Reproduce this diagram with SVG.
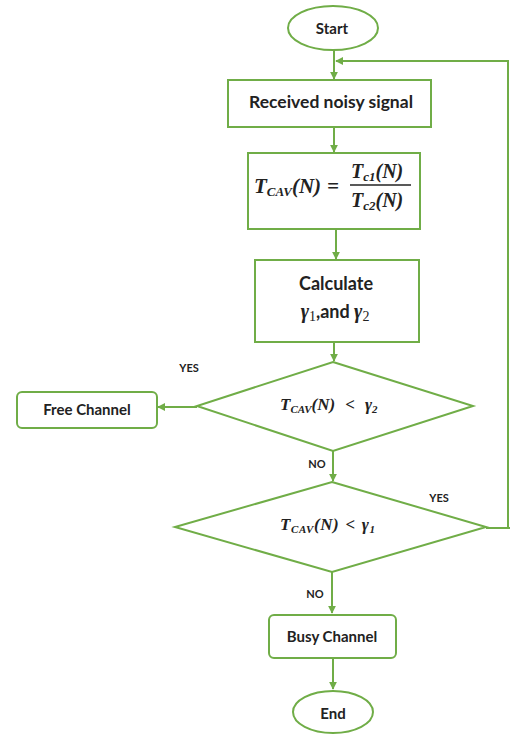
<svg xmlns="http://www.w3.org/2000/svg" width="510" height="734" viewBox="0 0 510 734">
<style>
.s{fill:#fff;stroke:#70AD47;stroke-width:2}
.c{fill:none;stroke:#70AD47;stroke-width:2}
.t{font-family:Lato,"Liberation Sans",sans-serif;font-weight:bold;fill:#222;text-anchor:middle}
.m{font-family:"Liberation Serif","DejaVu Serif",serif;font-weight:bold;font-style:italic;fill:#222}
</style>
<defs>
<marker id="a" viewBox="0 0 10 10" refX="9" refY="5" markerWidth="4" markerHeight="4" orient="auto"><path d="M0,0L10,5L0,10z" fill="#70AD47"/></marker>
</defs>
<rect width="510" height="734" fill="#fff"/>
<g id="connectors">
<path class="c" d="M334,50V79" marker-end="url(#a)"/>
<path class="c" d="M486,528H510M508,528V61H336" marker-end="url(#a)"/>
<path class="c" d="M334,127V152" marker-end="url(#a)"/>
<path class="c" d="M336,229V259" marker-end="url(#a)"/>
<path class="c" d="M334,342V361" marker-end="url(#a)"/>
<path class="c" d="M197,407H158" marker-end="url(#a)"/>
<path class="c" d="M333,451V481" marker-end="url(#a)"/>
<path class="c" d="M332,572V613" marker-end="url(#a)"/>
<path class="c" d="M333,658V689" marker-end="url(#a)"/>
</g>
<g id="start"><ellipse class="s" cx="333" cy="28" rx="45" ry="22"/><text class="t" x="332" y="34" font-size="15">Start</text></g>
<g id="received"><rect class="s" x="228" y="80" width="203" height="47"/><text class="t" x="331" y="108" font-size="17.5">Received noisy signal</text></g>
<g id="tcav"><rect class="s" x="248" y="153" width="172" height="76"/>
<text class="m" x="254" y="193" font-size="21">T<tspan font-size="13" dy="3">CAV</tspan><tspan dy="-3">(N)</tspan><tspan dx="6">=</tspan></text>
<text class="m" x="351" y="178" font-size="20">T<tspan font-size="13" dy="3">c1</tspan><tspan dy="-3">(N)</tspan></text>
<path d="M350,185H411" stroke="#222" stroke-width="1.4"/>
<text class="m" x="351" y="207" font-size="20">T<tspan font-size="13" dy="3">c2</tspan><tspan dy="-3">(N)</tspan></text>
</g>
<g id="calculate"><rect class="s" x="255" y="260" width="164" height="82"/><text class="t" x="336" y="290" font-size="18">Calculate</text>
<text class="t" x="335" y="318" font-size="18"><tspan class="m" font-size="20">γ</tspan><tspan font-family="Liberation Serif,serif" font-weight="normal" font-size="14" dy="3">1</tspan><tspan dy="-3">,and </tspan><tspan class="m" font-size="20">γ</tspan><tspan font-family="Liberation Serif,serif" font-weight="normal" font-size="14" dy="3">2</tspan></text></g>
<g id="decision1"><path class="s" d="M333,362L473,406L333,451L197,406Z"/>
<text class="m" x="280" y="410" font-size="17">T<tspan font-size="11" dy="3">CAV</tspan><tspan dy="-3">(N)</tspan><tspan dx="10">&lt;</tspan><tspan dx="10">γ</tspan><tspan font-size="11" dy="3">2</tspan></text></g>
<g id="free"><rect class="s" x="17" y="392" width="140" height="36" rx="5"/><text class="t" x="87" y="415" font-size="15">Free Channel</text></g>
<g id="decision2"><path class="s" d="M332,482L486,527L332,572L175,527Z"/>
<text class="m" x="280" y="530" font-size="17" letter-spacing="0.6">T<tspan font-size="11" dy="3">CAV</tspan><tspan dy="-3">(N)</tspan><tspan dx="6">&lt;</tspan><tspan dx="6">γ</tspan><tspan font-size="11" dy="3">1</tspan></text></g>
<g id="busy"><rect class="s" x="269" y="615" width="127" height="43" rx="5"/><text class="t" x="332" y="642" font-size="15">Busy Channel</text></g>
<g id="end"><ellipse class="s" cx="333" cy="712" rx="40" ry="21"/><text class="t" x="333" y="719" font-size="15">End</text></g>
<g id="labels">
<text class="t" x="189" y="372" font-size="11">YES</text>
<text class="t" x="317" y="468" font-size="11">NO</text>
<text class="t" x="439" y="502" font-size="11">YES</text>
<text class="t" x="315" y="598" font-size="11">NO</text>
</g>
</svg>
